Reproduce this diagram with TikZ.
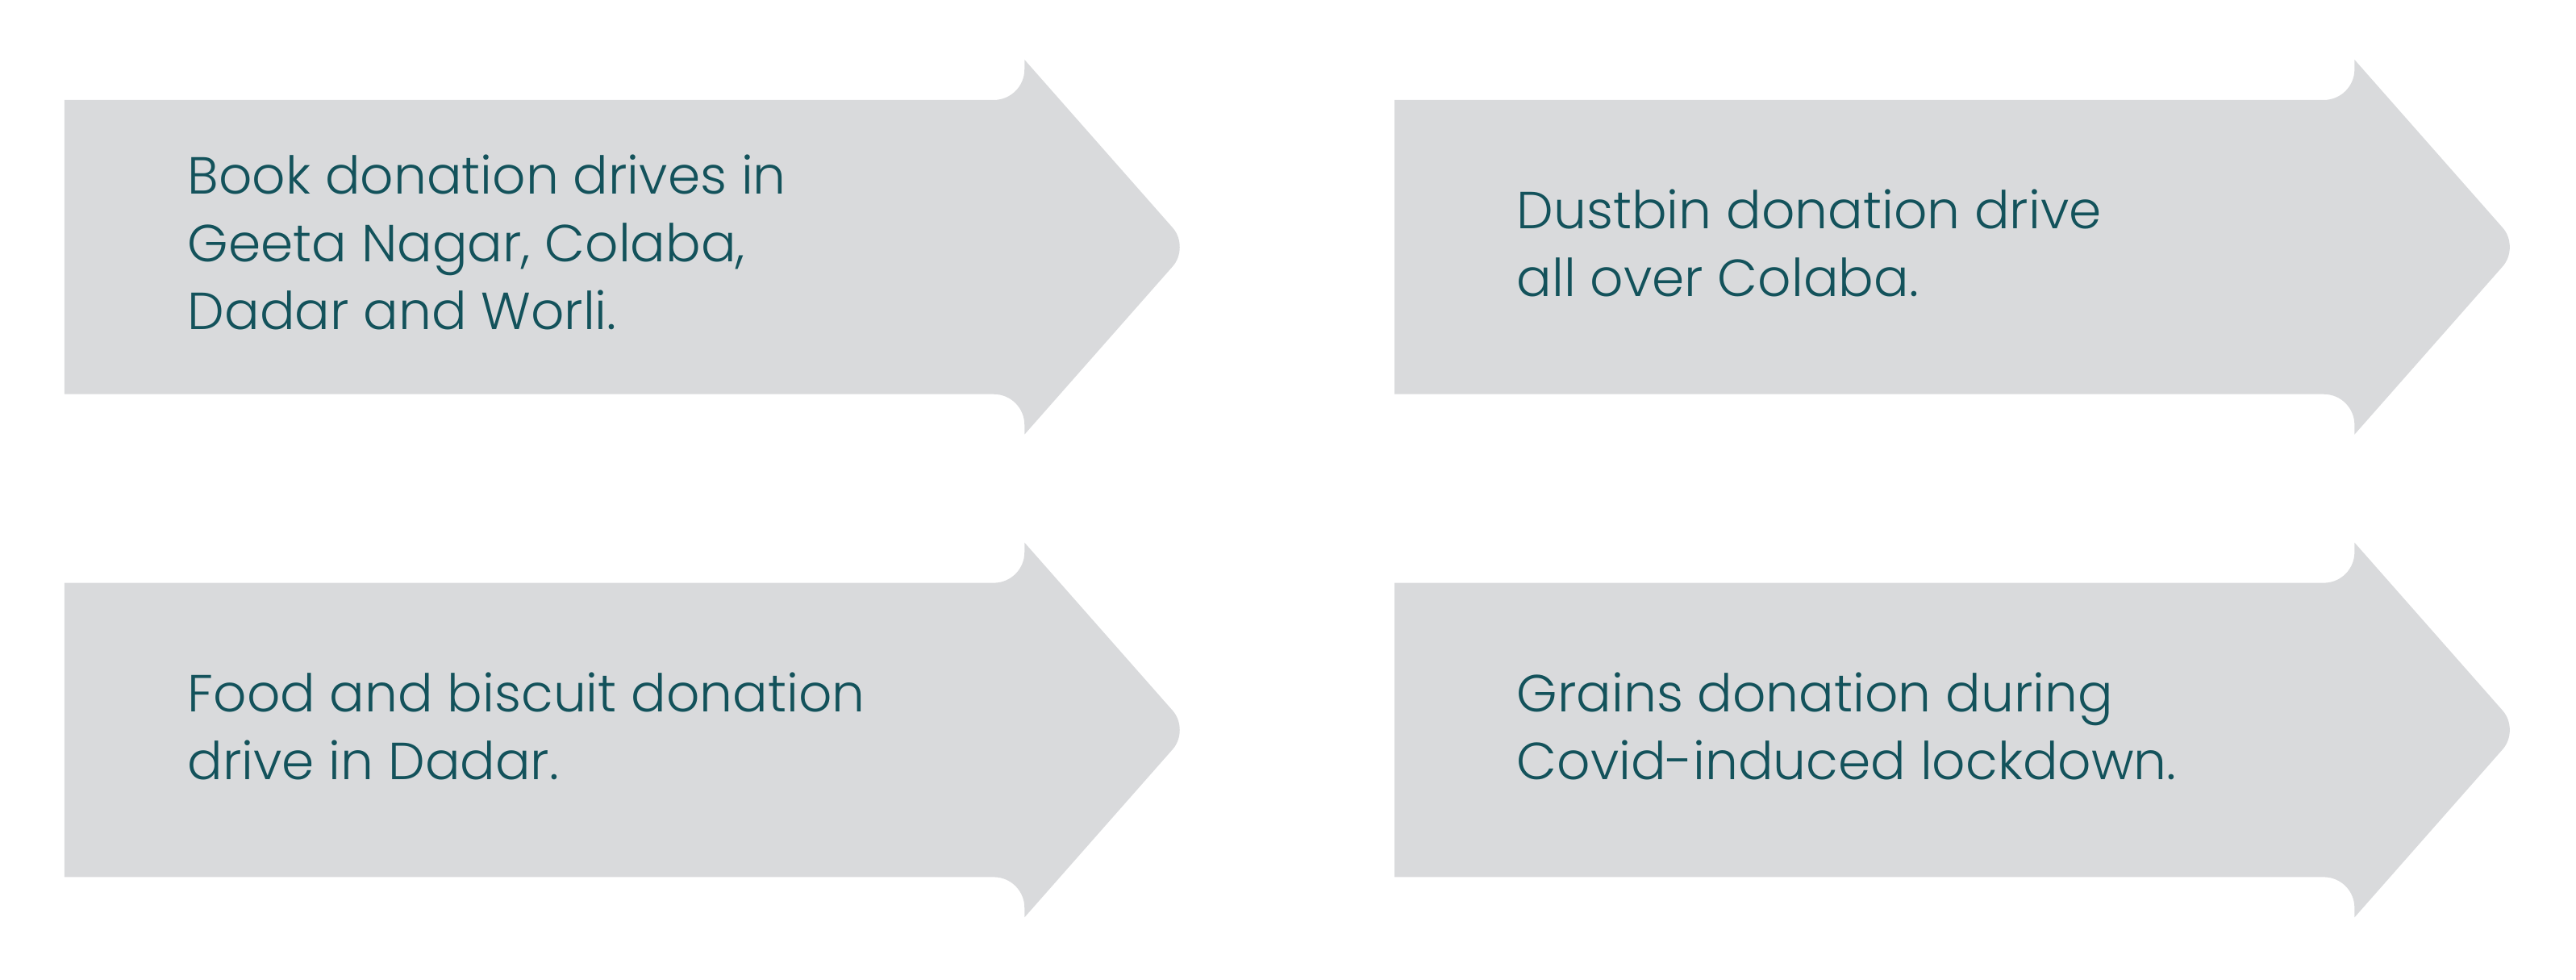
\documentclass[tikz,border=0pt]{standalone}
\usepackage{fontspec}
\setmainfont{Poppins Light}
\definecolor{arrowgray}{HTML}{D9DADC}
\definecolor{tealtext}{HTML}{13525B}
\newcommand{\chevshape}[2]{%
  \begin{scope}[shift={(#1*0.01,-#2*0.01)}, x=0.01cm, y=0.01cm]
    \fill[arrowgray] (0,0) -- (1153,0) arc[start angle=-90, end angle=0, radius=38]
      -- (1191,50) [rounded corners=0.32cm] -- (1396,-182.5) [sharp corners]
      -- (1191,-415) -- (1191,-403) arc[start angle=0, end angle=90, radius=38]
      -- (0,-365) -- cycle;
  \end{scope}}
\tikzset{boxtext/.style={anchor=base west, align=left, inner sep=0pt,
  text=tealtext, font=\fontsize{18.4pt}{23.9pt}\selectfont}}
\begin{document}
\begin{tikzpicture}
\useasboundingbox (0,0) rectangle (31.94,-12.14);
\chevshape{80}{124}
\chevshape{1730}{124}
\chevshape{80}{723}
\chevshape{1730}{723}
\node[boxtext] (t1) at (2.32,-4.08) {Book donation drives in\\Geeta Nagar, Colaba,\\Dadar and Worli.};
\node[boxtext] (t2) at (18.80,-3.67) {Dustbin donation drive\\all over Colaba.};
\node[boxtext] (t3) at (2.32,-9.66) {Food and biscuit donation\\drive in Dadar.};
\node[boxtext] (t4) at (18.80,-9.66) {Grains donation during\\Covid-induced lockdown.};
\end{tikzpicture}
\end{document}
